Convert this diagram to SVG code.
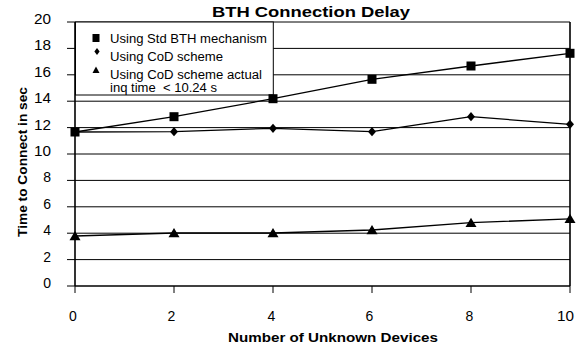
<svg xmlns="http://www.w3.org/2000/svg" width="581" height="351" viewBox="0 0 581 351">
<style>
  text { font-family: "Liberation Sans", Arial, sans-serif; fill: #000; }
  .b { font-weight: bold; }
  .tick { font-size: 14px; }
  .leg { font-size: 12.5px; white-space: pre; }
  .grid { stroke: #000; stroke-width: 1; fill: none; }
  .axis { stroke: #000; stroke-width: 1.6; fill: none; }
  .series { stroke: #000; stroke-width: 1.3; fill: none; stroke-linejoin: round; }
  .mk { fill: #000; stroke: none; }
</style>
<defs>
  <rect id="sq" class="mk" x="-4.5" y="-4.5" width="9" height="9"/>
  <polygon id="dm" class="mk" points="0,-4.6 4,0 0,4.6 -4,0"/>
  <polygon id="tr" class="mk" points="0,-5 5.5,4.2 -5.5,4.2"/>
</defs>
<rect width="581" height="351" fill="#fff"/>

<text class="b" x="311" y="17.3" font-size="15" text-anchor="middle" textLength="198" lengthAdjust="spacingAndGlyphs">BTH Connection Delay</text>

<g id="grid">
  <line class="grid" x1="75" y1="48.4" x2="570" y2="48.4"/>
  <line class="grid" x1="75" y1="74.8" x2="570" y2="74.8"/>
  <line class="grid" x1="75" y1="101.2" x2="570" y2="101.2"/>
  <line class="grid" x1="75" y1="127.6" x2="570" y2="127.6"/>
  <line class="grid" x1="75" y1="154" x2="570" y2="154"/>
  <line class="grid" x1="75" y1="180.4" x2="570" y2="180.4"/>
  <line class="grid" x1="75" y1="206.8" x2="570" y2="206.8"/>
  <line class="grid" x1="75" y1="233.2" x2="570" y2="233.2"/>
  <line class="grid" x1="75" y1="259.6" x2="570" y2="259.6"/>
  <line class="grid" x1="75" y1="22" x2="570" y2="22"/>
  <line class="axis" x1="570" y1="22" x2="570" y2="286"/>
</g>

<g id="axes">
  <line class="axis" x1="75" y1="22" x2="75" y2="286"/>
  <line class="axis" x1="75" y1="286" x2="570" y2="286"/>
  <path class="grid" d="M67 22H75M67 48.4H75M67 74.8H75M67 101.2H75M67 127.6H75M67 154H75M67 180.4H75M67 206.8H75M67 233.2H75M67 259.6H75M67 286H75"/>
  <path class="grid" d="M75 286V293M174 286V293M273 286V293M372 286V293M471 286V293M570 286V293"/>
  <g class="tick" text-anchor="end">
    <text x="51" y="24" textLength="17" lengthAdjust="spacingAndGlyphs">20</text>
    <text x="51" y="50.4" textLength="17" lengthAdjust="spacingAndGlyphs">18</text>
    <text x="51" y="76.8" textLength="17" lengthAdjust="spacingAndGlyphs">16</text>
    <text x="51" y="103.2" textLength="17" lengthAdjust="spacingAndGlyphs">14</text>
    <text x="51" y="129.6" textLength="17" lengthAdjust="spacingAndGlyphs">12</text>
    <text x="51" y="156" textLength="17" lengthAdjust="spacingAndGlyphs">10</text>
    <text x="51" y="182.4">8</text>
    <text x="51" y="208.8">6</text>
    <text x="51" y="235.2">4</text>
    <text x="51" y="261.6">2</text>
    <text x="51" y="288">0</text>
  </g>
  <g class="tick" text-anchor="middle">
    <text x="73" y="320.5">0</text>
    <text x="171.5" y="320.5">2</text>
    <text x="271.5" y="320.5">4</text>
    <text x="369.5" y="320.5">6</text>
    <text x="469.5" y="320.5">8</text>
    <text x="565.5" y="320.5" textLength="17" lengthAdjust="spacingAndGlyphs">10</text>
  </g>
  <text class="b" x="333" y="342" font-size="13" text-anchor="middle" textLength="210" lengthAdjust="spacingAndGlyphs">Number of Unknown Devices</text>
  <text class="b" transform="translate(26.5,162) rotate(-90)" font-size="13" text-anchor="middle" textLength="150" lengthAdjust="spacingAndGlyphs">Time to Connect in sec</text>
</g>

<g id="legend">
  <rect x="75.5" y="22" width="197.8" height="73" fill="#fff" stroke="#000" stroke-width="1"/>
  <rect class="mk" x="92.5" y="34" width="7" height="8"/>
  <polygon class="mk" points="97,48 99.6,51.5 97,55 94.4,51.5"/>
  <polygon class="mk" points="96,66.5 99.5,73 92.5,73"/>
  <text class="leg" x="110" y="42.5" textLength="157" lengthAdjust="spacingAndGlyphs">Using Std BTH mechanism</text>
  <text class="leg" x="110" y="60.5" textLength="113" lengthAdjust="spacingAndGlyphs">Using CoD scheme</text>
  <text class="leg" x="110" y="79.3" textLength="152" lengthAdjust="spacingAndGlyphs">Using CoD scheme actual</text>
  <text class="leg" x="110" y="92" textLength="107" lengthAdjust="spacingAndGlyphs" xml:space="preserve">inq time  &lt; 10.24 s</text>
</g>

<g id="connectors">
  <polyline class="series" points="75,132 174,116.7 273,98.7 372,79.3 471,66 570,53.3"/>
  <polyline class="series" points="75,132 174,131.7 273,128.3 372,131.7 471,116.7 570,124.3"/>
  <polyline class="series" points="75,236 174,233 273,233 372,230 471,222.7 570,218.8"/>
</g>

<g id="series-std">
  <use href="#sq" x="75" y="132"/>
  <use href="#sq" x="174" y="116.7"/>
  <use href="#sq" x="273" y="98.7"/>
  <use href="#sq" x="372" y="79.3"/>
  <use href="#sq" x="471" y="66"/>
  <use href="#sq" x="570" y="53.3"/>
</g>
<g id="series-cod">
  <use href="#dm" x="174" y="131.7"/>
  <use href="#dm" x="273" y="128.3"/>
  <use href="#dm" x="372" y="131.7"/>
  <use href="#dm" x="471" y="116.7"/>
  <use href="#dm" x="570" y="124.3"/>
</g>
<g id="series-actual">
  <use href="#tr" x="75" y="236"/>
  <use href="#tr" x="174" y="233"/>
  <use href="#tr" x="273" y="233"/>
  <use href="#tr" x="372" y="230"/>
  <use href="#tr" x="471" y="222.7"/>
  <use href="#tr" x="570" y="218.8"/>
</g>
</svg>
